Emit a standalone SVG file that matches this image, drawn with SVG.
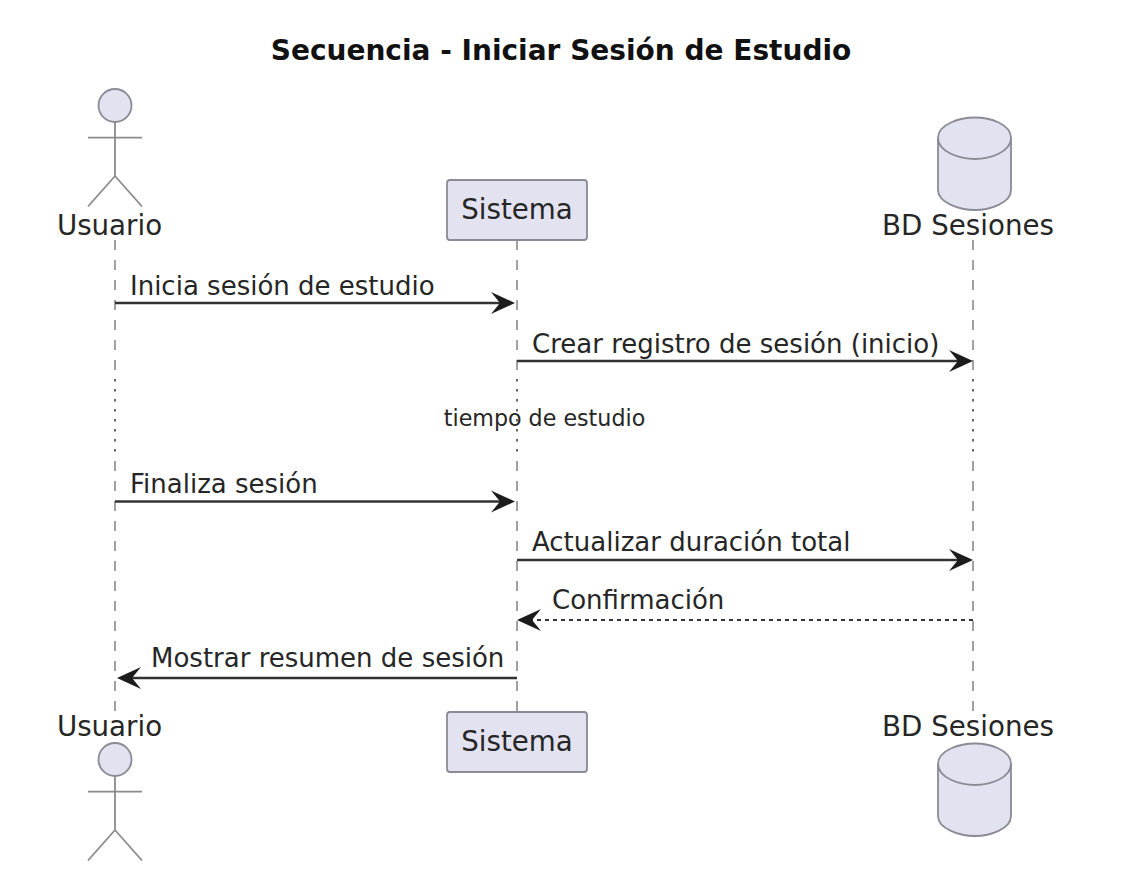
<svg xmlns="http://www.w3.org/2000/svg" width="1121" height="876" viewBox="0 0 1121 876">
<defs>
<style>
text{font-family:"DejaVu Sans",sans-serif;fill:#262626;}
.t{font-size:27.700px;text-anchor:middle;}
.m{font-size:26px;}
.s{stroke:#8b8b96;stroke-width:1.800;fill:#E2E2F0;}
.a{stroke:#8b8b8b;stroke-width:1.800;fill:none;}
.life{stroke:#8a8a8a;stroke-width:1.600;fill:none;stroke-dasharray:10 10;}
.dot{stroke:#666;stroke-width:2;fill:none;stroke-dasharray:2.500 7.500;}
.msg{stroke:#333;stroke-width:2.400;fill:none;}
.dash{stroke:#333;stroke-width:2;fill:none;stroke-dasharray:4 4;}
.h{fill:#1c1c1c;stroke:none;}
</style>
<polygon id="ar" class="h" points="0,0 -24,-11 -15,0 -24,11"/>
<polygon id="al" class="h" points="0,0 24,-11 15,0 24,11"/>
</defs>
<rect width="1121" height="876" fill="#fff"/>
<text x="561" y="60" text-anchor="middle" font-size="28" font-weight="700" style="fill:#111">Secuencia - Iniciar Sesión de Estudio</text>
<g id="connectors">
<path class="life" d="M115 240V377M517 240V377M973 240V377"/>
<path class="dot" d="M115 379V455M517 379V455M973 379V455"/>
<path class="life" d="M115 461V711M517 461V711M973 461V711"/>
<path class="msg" d="M115 303H505"/><use href="#ar" x="515" y="303"/>
<path class="msg" d="M517 361H963"/><use href="#ar" x="973" y="361"/>
<path class="msg" d="M115 501.500H505"/><use href="#ar" x="515" y="501.500"/>
<path class="msg" d="M517 560H963"/><use href="#ar" x="973" y="560"/>
<path class="dash" d="M973 620H527"/><use href="#al" x="517" y="620"/>
<path class="msg" d="M517 678H127"/><use href="#al" x="117" y="678"/>
<text class="m" x="130" y="295">Inicia sesión de estudio</text>
<text class="m" x="532" y="353">Crear registro de sesión (inicio)</text>
<text x="544.500" y="426" text-anchor="middle" font-size="22.200">tiempo de estudio</text>
<text class="m" x="130" y="493">Finaliza sesión</text>
<text class="m" x="532" y="551">Actualizar duración total</text>
<text class="m" x="552" y="609">Confirmación</text>
<text class="m" x="151" y="667">Mostrar resumen de sesión</text>
</g>
<g id="usuario-top">
<circle class="s" cx="115" cy="105.500" r="16.500"/>
<path class="a" d="M115 122V176M88 137.700H142M88 206.500L115 176L142 206.500"/>
<text class="t" x="109.500" y="235">Usuario</text>
</g>
<g id="sistema-top">
<rect class="s" x="447" y="180" width="140" height="60" rx="3"/>
<text class="t" x="517" y="219">Sistema</text>
</g>
<g id="bd-top">
<path class="s" d="M938 138C938 124 960 117.500 975 117.500C990 117.500 1011 124 1011 138V190C1011 203 990 210 975 210C960 210 938 203 938 190Z"/>
<path class="s" style="fill:none" d="M938 138C938 152 960 159 975 159C990 159 1011 152 1011 138"/>
<text class="t" x="968" y="235">BD Sesiones</text>
</g>
<g id="usuario-bottom">
<circle class="s" cx="115" cy="759.500" r="16.500"/>
<path class="a" d="M115 776V830M88 791.700H142M88 860.500L115 830L142 860.500"/>
<text class="t" x="109.500" y="736">Usuario</text>
</g>
<g id="sistema-bottom">
<rect class="s" x="447" y="712" width="140" height="60" rx="3"/>
<text class="t" x="517" y="751">Sistema</text>
</g>
<g id="bd-bottom">
<path class="s" d="M938 764C938 750 960 743.500 975 743.500C990 743.500 1011 750 1011 764V816C1011 829 990 836 975 836C960 836 938 829 938 816Z"/>
<path class="s" style="fill:none" d="M938 764C938 778 960 785 975 785C990 785 1011 778 1011 764"/>
<text class="t" x="968" y="736">BD Sesiones</text>
</g>
</svg>
